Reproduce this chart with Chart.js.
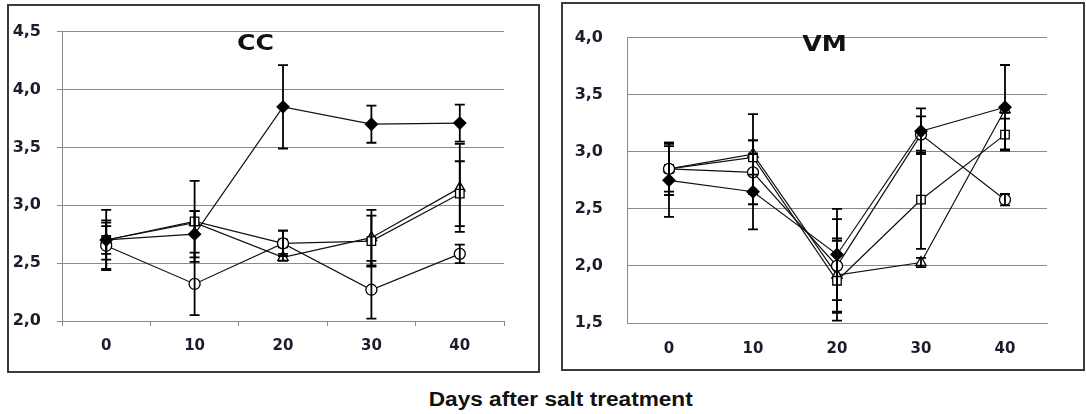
<!DOCTYPE html>
<html>
<head>
<meta charset="utf-8">
<script src="https://cdn.jsdelivr.net/npm/chart.js@4.4.0/dist/chart.umd.min.js"></script>
<style>
  html, body { margin:0; padding:0; background:#fff; width:1086px; height:414px; overflow:hidden; }
  .box { position:absolute; box-sizing:border-box; border:2px solid #3a3a3a; }
  canvas { position:absolute; }
  .ttl { position:absolute; font-family:"DejaVu Sans", sans-serif; font-weight:bold; color:#111; font-size:21px; line-height:21px; transform:scaleX(1.2); transform-origin:center; white-space:nowrap; }
  #xlab { position:absolute; font-family:"Liberation Sans", Arial, sans-serif; font-weight:bold; font-size:20px; line-height:20px; color:#111; white-space:nowrap; transform-origin:center; }
</style>
</head>
<body>
<div class="box" style="left:7px;top:4px;width:533px;height:369px;"></div>
<div class="box" style="left:561px;top:2px;width:524px;height:369px;"></div>
<canvas id="cc" width="528" height="364" style="left:9px;top:6px;"></canvas>
<canvas id="vm" width="519" height="364" style="left:563px;top:4px;"></canvas>
<div class="ttl" id="t1" style="left:240px;top:33px;">CC</div>
<div class="ttl" id="t2" style="left:806px;top:34px;">VM</div>
<div id="xlab">Days after salt treatment</div>
<script>
// ---- data ----
const days = ['0', '10', '20', '30', '40'];

// CC panel
const ccDiamond   = [2.70, 2.75, 3.85, 3.70, 3.71];
const ccDiamondErr = [0.26, 0.20, 0.36, 0.16, 0.16];
const ccCircle    = [2.65, 2.32, 2.67, 2.27, 2.58];
const ccCircleErr  = [0.20, 0.27, 0.11, 0.25, 0.08];
const ccSquare    = [2.70, 2.86, 2.67, 2.69, 3.10];
const ccSquareErr  = [0.17, 0.35, 0.11, 0.22, 0.28];
const ccTriangle  = [2.70, 2.85, 2.55, 2.72, 3.15];
const ccTriangleErr = [0.12, 0.10, 0.03, 0.24, 0.38];

// VM panel
const vmDiamond   = [2.75, 2.65, 2.10, 3.18, 3.39];
const vmDiamondErr = [0.32, 0.33, 0.40, 0.20, 0.37];
const vmCircle    = [2.85, 2.82, 2.00, 3.15, 2.58];
const vmCircleErr  = [0.20, 0.28, 0.41, 0.16, 0.05];
const vmSquare    = [2.85, 2.95, 1.87, 2.58, 3.15];
const vmSquareErr  = [0.23, 0.15, 0.35, 0.43, 0.14];
const vmTriangle  = [2.85, 2.98, 1.92, 2.03, 3.37];
const vmTriangleErr = [0.23, 0.35, 0.32, 0.04, 0.03];

const ccTitle = 'CC';
const vmTitle = 'VM';
const xTitle = 'Days after salt treatment';

// ---- rendering ----
document.getElementById('t1').textContent = ccTitle;
document.getElementById('t2').textContent = vmTitle;
const xl = document.getElementById('xlab');
xl.textContent = xTitle;
{
  const w = xl.getBoundingClientRect().width;
  const sx = 264 / w;
  xl.style.left = (561 - w / 2) + 'px';
  xl.style.top = '389px';
  xl.style.transform = 'scaleX(' + sx + ')';
}

const errorBars = {
  id: 'errorBars',
  afterDatasetsDraw(chart) {
    const ctx = chart.ctx;
    const ys = chart.scales.y;
    ctx.save();
    ctx.strokeStyle = '#000';
    ctx.lineWidth = 1.8;
    chart.data.datasets.forEach((ds, di) => {
      const meta = chart.getDatasetMeta(di);
      ds.data.forEach((v, i) => {
        const e = ds.err[i];
        const x = meta.data[i].x;
        const y1 = ys.getPixelForValue(v + e);
        const y2 = ys.getPixelForValue(v - e);
        ctx.beginPath();
        ctx.moveTo(x, y1); ctx.lineTo(x, y2);
        ctx.moveTo(x - 5, y1); ctx.lineTo(x + 5, y1);
        ctx.moveTo(x - 5, y2); ctx.lineTo(x + 5, y2);
        ctx.stroke();
      });
    });
    ctx.restore();
  }
};

function mkSets(d, c, s, t, de, ce, se, te) {
  const base = { borderColor: '#111', borderWidth: 1.2, pointBorderColor: '#000', pointBorderWidth: 1.3, pointRadius: 5.5, tension: 0 };
  return [
    Object.assign({}, base, { label: 'diamond', data: d, err: de, pointStyle: 'rectRot', pointBackgroundColor: '#000', pointRadius: 6 }),
    Object.assign({}, base, { label: 'circle', data: c, err: ce, pointStyle: 'circle', pointBackgroundColor: '#fff' }),
    Object.assign({}, base, { label: 'square', data: s, err: se, pointStyle: 'rect', pointBackgroundColor: '#fff', pointRadius: 6 }),
    Object.assign({}, base, { label: 'triangle', data: t, err: te, pointStyle: 'triangle', pointBackgroundColor: '#fff', pointRadius: 6 })
  ];
}

const tickFont = { family: 'DejaVu Sans', weight: 'bold', size: 15 };
const tickColor = '#1c1c2c';
const fmt = v => Number(v).toFixed(1).replace('.', ',');

function mkChart(id, sets, ymin, ymax, opts) {
  return new Chart(document.getElementById(id), {
    type: 'line',
    data: { labels: days, datasets: sets },
    options: {
      responsive: false, animation: false, devicePixelRatio: 1,
      layout: { padding: { left: 0, right: opts.padRight, top: opts.padTop, bottom: 0 } },
      plugins: { legend: { display: false }, tooltip: { enabled: false }, title: { display: false } },
      scales: {
        x: {
          type: 'category', offset: true,
          grid: { drawOnChartArea: false, drawTicks: opts.xTicks, tickLength: 5, offset: true, color: '#8a8a8a', lineWidth: 1 },
          border: { display: true, color: '#8a8a8a', width: 1 },
          ticks: { font: tickFont, color: tickColor, padding: opts.xPad, maxRotation: 0 },
          afterFit: s => { s.height = opts.xHeight; }
        },
        y: {
          min: ymin, max: ymax,
          grid: { color: '#8a8a8a', lineWidth: 1, drawTicks: opts.yTicks, tickLength: 5 },
          border: { display: true, color: '#8a8a8a', width: 1 },
          ticks: { stepSize: 0.5, font: Object.assign({}, tickFont, { size: 16 }), color: tickColor, padding: opts.yPad, callback: fmt },
          afterFit: s => { s.width = opts.yWidth; }
        }
      }
    },
    plugins: [errorBars]
  });
}

Chart.defaults.font.family = 'DejaVu Sans';

mkChart('cc', mkSets(ccDiamond, ccCircle, ccSquare, ccTriangle, ccDiamondErr, ccCircleErr, ccSquareErr, ccTriangleErr),
  2.0, 4.5, { padRight: 33, padTop: 20, xHeight: 49, yWidth: 53, xTicks: true, yTicks: true, xPad: 11, yPad: 16 });

mkChart('vm', mkSets(vmDiamond, vmCircle, vmSquare, vmTriangle, vmDiamondErr, vmCircleErr, vmSquareErr, vmTriangleErr),
  1.5, 4.0, { padRight: 35, padTop: 19, xHeight: 45, yWidth: 64, xTicks: false, yTicks: false, xPad: 17, yPad: 24 });
</script>
</body>
</html>
